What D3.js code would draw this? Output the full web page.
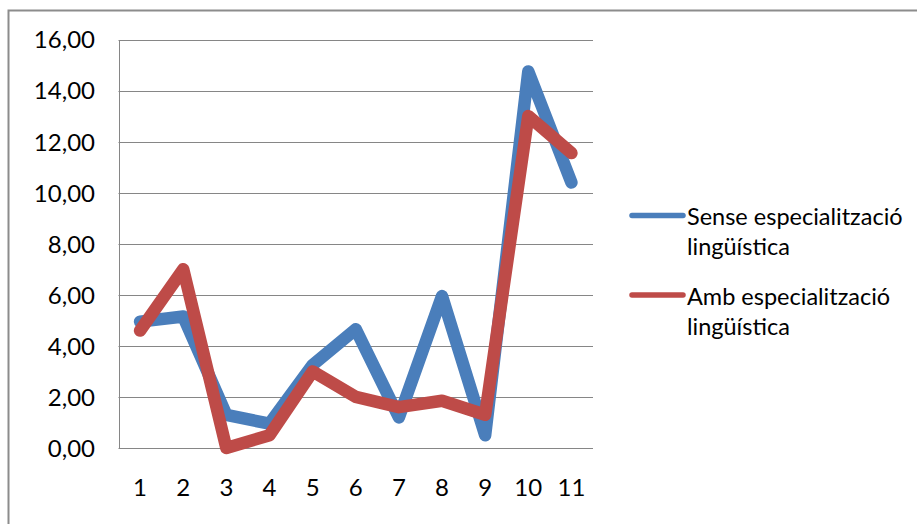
<!DOCTYPE html>
<html>
<head>
<meta charset="utf-8">
<script src="https://cdn.jsdelivr.net/npm/d3@7"></script>
<style>
  body { margin: 0; background: #fff; }
  svg text { font-family: Lato, "Open Sans", sans-serif; fill: #000; }
</style>
</head>
<body>
<div id="chart"></div>
<script>
var categories = ["1", "2", "3", "4", "5", "6", "7", "8", "9", "10", "11"];
var sense_values = [4.95, 5.15, 1.3, 0.95, 3.25, 4.65, 1.2, 5.95, 0.5, 14.75, 10.4];
var amb_values = [4.6, 7.0, 0.0, 0.5, 3.0, 2.0, 1.6, 1.85, 1.3, 13.0, 11.55];
var y_ticks = [0, 2, 4, 6, 8, 10, 12, 14, 16];
var series_names = [["Sense especialització", "lingüística"], ["Amb especialització", "lingüística"]];
var series_colors = ["#4a7ebb", "#be4b48"];

var width = 917, height = 524;
var plot = {left: 118.5, right: 593, top: 39.5, bottom: 448};

var svg = d3.select("#chart").append("svg")
    .attr("width", width)
    .attr("height", height);

// outer chart frame
svg.append("rect")
    .attr("x", 8.5).attr("y", 10.5)
    .attr("width", 940).attr("height", 560)
    .style("fill", "#fff")
    .style("stroke", "#8c8c8c")
    .style("stroke-width", 2);

var x = d3.scaleBand()
    .domain(categories)
    .range([plot.left, plot.right]);

var y = d3.scaleLinear()
    .domain([0, 16])
    .range([plot.bottom, plot.top]);

var fmt = function(d) { return d3.format(".2f")(d).replace(".", ","); };

// gridlines
svg.append("g")
    .selectAll("line")
    .data(y_ticks)
  .enter().append("line")
    .attr("x1", plot.left).attr("x2", plot.right)
    .attr("y1", function(d) { return Math.round(y(d)) + 0.5; })
    .attr("y2", function(d) { return Math.round(y(d)) + 0.5; })
    .style("stroke", "#868686")
    .style("stroke-width", 1);

// y axis
var yAxis = d3.axisLeft(y).tickValues(y_ticks).tickFormat(fmt).tickSize(0).tickPadding(24);
var gy = svg.append("g")
    .attr("transform", "translate(" + (plot.left + 0.5) + ",0)")
    .call(yAxis);
gy.select(".domain").style("stroke", "#868686");
gy.selectAll("text").style("font-size", "24px").attr("dy", "0.35em");

// x axis labels
var xAxis = d3.axisBottom(x).tickSize(0).tickPadding(31);
var gx = svg.append("g")
    .attr("transform", "translate(0," + plot.bottom + ")")
    .call(xAxis);
gx.select(".domain").remove();
gx.selectAll("text").style("font-size", "24px");

var line = d3.line()
    .x(function(d, i) { return x(categories[i]) + x.bandwidth() / 2; })
    .y(function(d) { return y(d); });

[sense_values, amb_values].forEach(function(vals, k) {
  svg.append("path")
      .datum(vals)
      .attr("d", line)
      .style("fill", "none")
      .style("stroke", series_colors[k])
      .style("stroke-width", 12.5)
      .style("stroke-linejoin", "round")
      .style("stroke-linecap", "round");
});

// legend
var legend_y = [215.5, 295];
var legend = svg.append("g");
series_names.forEach(function(lines, k) {
  legend.append("line")
      .attr("x1", 632).attr("x2", 683)
      .attr("y1", legend_y[k]).attr("y2", legend_y[k])
      .style("stroke", series_colors[k])
      .style("stroke-width", 5.5)
      .style("stroke-linecap", "round");
  lines.forEach(function(t, j) {
    legend.append("text")
        .attr("x", 687)
        .attr("y", legend_y[k] + 9.5 + j * 30)
        .style("font-size", "23.5px")
        .text(t);
  });
});
</script>
</body>
</html>
